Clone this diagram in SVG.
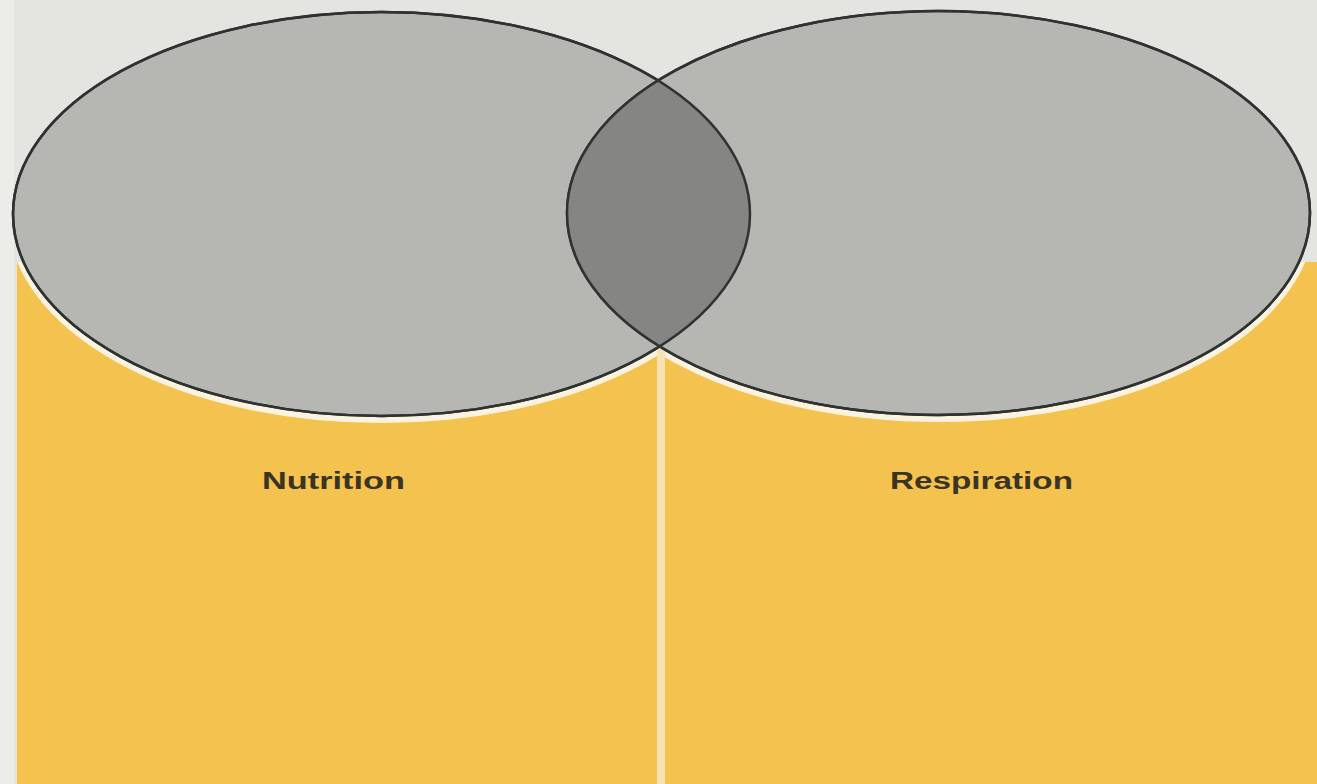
<svg xmlns="http://www.w3.org/2000/svg" width="1317" height="784" viewBox="0 0 1317 784">
  <style>
    .panel { fill: #f3c24f; }
    .halo { fill: none; stroke: #fbf3e0; stroke-width: 10; }
    .set { fill: #b6b7b3; stroke: #2e3331; stroke-width: 2.5; }
    .lens { fill: #858683; }
    .label { font-family: "Liberation Sans", Arial, sans-serif; font-weight: bold; font-size: 23px; fill: #3a3420; }
  </style>
  <defs>
    <clipPath id="clipLeft">
      <ellipse cx="381.5" cy="214" rx="368.5" ry="202"/>
    </clipPath>
    <clipPath id="clipPanels">
      <rect x="17" y="262" width="640" height="522"/>
      <rect x="665" y="262" width="652" height="522"/>
    </clipPath>
  </defs>
  <rect x="0" y="0" width="1317" height="784" fill="#e4e5e1"/>
  <rect x="0" y="0" width="14" height="784" fill="#ecece8"/>

  <g id="panels">
    <rect class="panel" x="17" y="262" width="640" height="522"/>
    <rect class="panel" x="665" y="262" width="652" height="522"/>
    <rect x="657" y="330" width="8" height="454" fill="#f5e2b6"/>
  </g>

  <g id="halo" clip-path="url(#clipPanels)">
    <ellipse class="halo" cx="381.5" cy="216" rx="368.5" ry="202"/>
    <ellipse class="halo" cx="938.5" cy="215" rx="371.5" ry="202"/>
  </g>

  <g id="nutrition">
    <ellipse class="set" cx="381.5" cy="214" rx="368.5" ry="202"/>
  </g>
  <g id="respiration">
    <ellipse class="set" cx="938.5" cy="213" rx="371.5" ry="202"/>
  </g>
  <g id="overlap">
    <ellipse class="lens" cx="938.5" cy="213" rx="371.5" ry="202" clip-path="url(#clipLeft)"/>
    <ellipse cx="381.5" cy="214" rx="368.5" ry="202" fill="none" stroke="#2e3331" stroke-width="2.5"/>
    <ellipse cx="938.5" cy="213" rx="371.5" ry="202" fill="none" stroke="#2e3331" stroke-width="2.5"/>
  </g>

  <g id="labels">
    <text class="label" x="262" y="489" textLength="143" lengthAdjust="spacingAndGlyphs">Nutrition</text>
    <text class="label" x="890" y="489" textLength="183" lengthAdjust="spacingAndGlyphs">Respiration</text>
  </g>
</svg>
